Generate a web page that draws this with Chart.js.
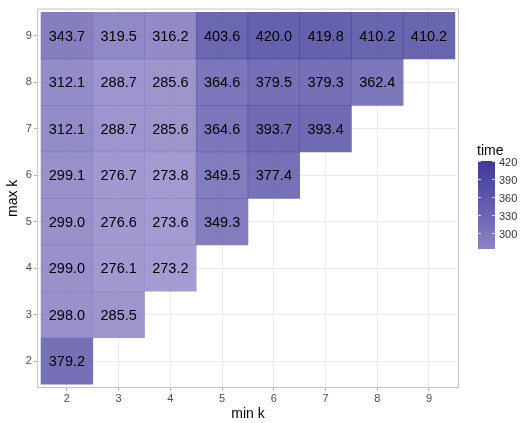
<!DOCTYPE html>
<html>
<head>
<meta charset="utf-8">
<script src="https://cdn.jsdelivr.net/npm/chart.js@4.4.1/dist/chart.umd.min.js"></script>
<style>
  html, body { margin: 0; padding: 0; background: #fff; }
  #wrap { width: 521px; height: 423px; }
</style>
</head>
<body>
<div id="wrap"><canvas id="heat"></canvas></div>
<script>
// min k along x, max k along y (rows listed top to bottom)
const minK = [2, 3, 4, 5, 6, 7, 8, 9];
const maxK = [9, 8, 7, 6, 5, 4, 3, 2];
const times = [
    [343.7, 319.5, 316.2, 403.6, 420.0, 419.8, 410.2, 410.2],
    [312.1, 288.7, 285.6, 364.6, 379.5, 379.3, 362.4],
    [312.1, 288.7, 285.6, 364.6, 393.7, 393.4],
    [299.1, 276.7, 273.8, 349.5, 377.4],
    [299.0, 276.6, 273.6, 349.3],
    [299.0, 276.1, 273.2],
    [298.0, 285.5],
    [379.2]
];
const axisTicks = [2, 3, 4, 5, 6, 7, 8, 9];
const legendTicks = [300, 330, 360, 390, 420];

const tMin = 273.2, tMax = 420.0;
const lowC = [140, 130, 197];
const highC = [62, 57, 152];

function mix(v) {
    let t = (v - tMin) / (tMax - tMin);
    t = Math.max(0, Math.min(1, t));
    return lowC.map((c, i) => Math.round(c + (highC[i] - c) * t));
}
function tileColor(v) {
    let c = mix(v);
    return 'rgba(' + c[0] + ',' + c[1] + ',' + c[2] + ',0.8)';
}

let datasets = times.map((row, r) => ({
    label: 'max ' + maxK[r],
    data: row.map((v, i) => ({ x: minK[i], y: [maxK[r] - 0.5, maxK[r] + 0.5], v: v })),
    backgroundColor: ctx => tileColor(ctx.raw.v),
    borderWidth: 0,
    borderSkipped: false,
    barPercentage: 1,
    categoryPercentage: 1,
    grouped: false
}));

const cellLabels = {
    id: 'cellLabels',
    afterDatasetsDraw(chart) {
        let ctx = chart.ctx;
        ctx.save();
        ctx.font = '14.5px "Liberation Sans", Arial, sans-serif';
        ctx.fillStyle = '#000';
        ctx.textAlign = 'center';
        ctx.textBaseline = 'middle';
        chart.data.datasets.forEach((ds, d) => {
            chart.getDatasetMeta(d).data.forEach((el, i) => {
                ctx.fillText(ds.data[i].v.toFixed(1), el.x, (el.y + el.base) / 2 + 1);
            });
        });
        ctx.restore();
    }
};

const panelBorder = {
    id: 'panelBorder',
    afterDraw(chart) {
        let a = chart.chartArea, ctx = chart.ctx;
        ctx.save();
        ctx.strokeStyle = '#c4c4c4';
        ctx.lineWidth = 1;
        ctx.strokeRect(a.left + 0.5, a.top + 0.5, a.right - a.left - 1, a.bottom - a.top - 1);
        ctx.restore();
    }
};

const colorBar = {
    id: 'colorBar',
    afterDraw(chart) {
        let ctx = chart.ctx;
        let x0 = 478, w = 17, top = 161, h = 88;
        ctx.save();
        ctx.font = '14px "Liberation Sans", Arial, sans-serif';
        ctx.fillStyle = '#000';
        ctx.textBaseline = 'alphabetic';
        ctx.fillText('time', x0 - 1, top - 6);
        let g = ctx.createLinearGradient(0, top + h, 0, top);
        g.addColorStop(0, 'rgb(' + mix(tMin).join(',') + ')');
        g.addColorStop(1, 'rgb(' + mix(tMax).join(',') + ')');
        ctx.fillStyle = g;
        ctx.fillRect(x0, top, w, h);
        ctx.font = '11px "Liberation Sans", Arial, sans-serif';
        ctx.textBaseline = 'middle';
        legendTicks.forEach(t => {
            let y = Math.round(top + h - (t - tMin) / (tMax - tMin) * h) + 0.5;
            ctx.strokeStyle = 'rgba(255,255,255,0.8)';
            ctx.beginPath();
            ctx.moveTo(x0, y); ctx.lineTo(x0 + 3, y);
            ctx.moveTo(x0 + w - 3, y); ctx.lineTo(x0 + w, y);
            ctx.stroke();
            ctx.fillStyle = '#333';
            ctx.fillText(String(t), x0 + w + 4, y + 1);
        });
        ctx.restore();
    }
};

function fixedTicks(scale) {
    scale.ticks = axisTicks.map(v => ({ value: v }));
}

let heat = new Chart(document.getElementById('heat').getContext('2d'), {
    type: 'bar',
    data: { datasets: datasets },
    plugins: [cellLabels, panelBorder, colorBar],
    options: {
        responsive: true,
        maintainAspectRatio: false,
        animation: false,
        layout: { padding: { top: 3, right: 62, left: 5, bottom: 0 } },
        plugins: {
            legend: { display: false },
            tooltip: { enabled: false }
        },
        scales: {
            x: {
                type: 'linear',
                offset: false,
                min: 1.42,
                max: 9.58,
                afterBuildTicks: fixedTicks,
                grid: { color: '#ebebeb', tickColor: '#b3b3b3', tickLength: 3, offset: false },
                border: { display: false },
                ticks: {
                    color: '#4d4d4d',
                    font: { size: 11, family: '"Liberation Sans", Arial, sans-serif' },
                    padding: 1,
                    maxRotation: 0
                },
                title: {
                    display: true,
                    text: 'min k',
                    color: '#000',
                    font: { size: 14, family: '"Liberation Sans", Arial, sans-serif' },
                    padding: { top: 0, bottom: 0 }
                }
            },
            y: {
                type: 'linear',
                min: 1.42,
                max: 9.58,
                afterBuildTicks: fixedTicks,
                grid: { color: '#ebebeb', tickColor: '#b3b3b3', tickLength: 3 },
                border: { display: false },
                ticks: {
                    color: '#4d4d4d',
                    font: { size: 11, family: '"Liberation Sans", Arial, sans-serif' },
                    padding: 2
                },
                title: {
                    display: true,
                    text: 'max k',
                    color: '#000',
                    font: { size: 14, family: '"Liberation Sans", Arial, sans-serif' },
                    padding: { top: 0, bottom: 2 }
                }
            }
        }
    }
});
</script>
</body>
</html>
